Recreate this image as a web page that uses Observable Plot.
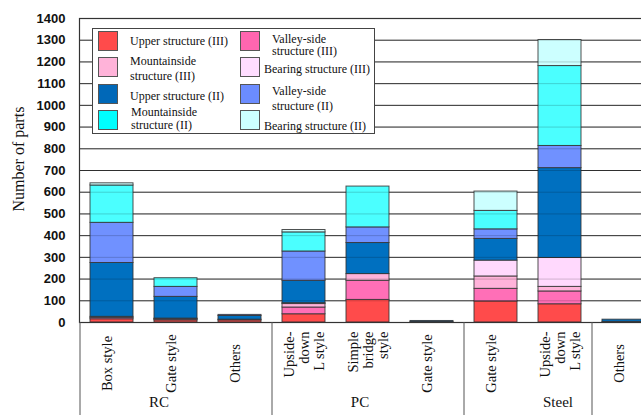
<!DOCTYPE html>
<html><head><meta charset="utf-8">
<script src="https://cdn.jsdelivr.net/npm/d3@7"></script>
<script src="https://cdn.jsdelivr.net/npm/@observablehq/plot@0.6"></script>
<style>
html,body{margin:0;padding:0;overflow:hidden;background:#fff;}
#wrap{position:relative;width:641px;height:415px;overflow:hidden;}
#chart svg{max-width:none !important;}
#legend{position:absolute;left:92px;top:28px;width:283px;height:106px;border:1px solid #444;background:#fff;box-sizing:border-box;}
.sw{position:absolute;width:20px;height:20px;border:1px solid #555;box-sizing:border-box;}
.lt{position:absolute;font-family:"Liberation Serif",serif;font-size:12px;white-space:pre;color:#111;}
</style></head><body><div id="wrap"><div id="chart"></div><div id="legend"></div></div>
<script>
// ---- data ----
const groups = ["RC","RC","RC","PC","PC","PC","Steel","Steel","Steel"];
const labels = ["Box style","Gate style","Others","Upside-\ndown\nL style","Simple\nbridge\nstyle","Gate style","Gate style","Upside-\ndown\nL style","Others"];
const series = ["Upper structure (III)","Valley-side structure (III)","Mountainside structure (III)","Bearing structure (III)","Upper structure (II)","Valley-side structure (II)","Mountainside structure (II)","Bearing structure (II)"];
const legendLabels = ["Upper structure (III)","Valley-side\nstructure (III)","Mountainside\nstructure (III)","Bearing structure (III)","Upper structure (II)","Valley-side\nstructure (II)","Mountainside\nstructure (II)","Bearing structure (II)"];
const colors = ["#FF4B4B","#FF6FB7","#FFB3DA","#FFD9FD","#0070C0","#7091FF","#4BFFFF","#CCFFFF"];
const legendColors = ["#FF4B4B","#FF66B0","#FFB3D9","#FFDDFF","#0068B8","#6B8CFF","#00FFFF","#CCFFFF"];
const upperIII    = [15, 10, 10, 38, 104, 2, 97, 84, 3];
const valleyIII   = [6, 3, 3, 31, 88, 0, 58, 59, 0];
const mountainIII = [5, 3, 0, 16, 31, 0, 57, 21, 0];
const bearingIII  = [0, 2, 0, 4, 0, 0, 73, 133, 0];
const upperII     = [248, 100, 17, 103, 143, 5, 100, 414, 10];
const valleyII    = [185, 46, 5, 135, 72, 0, 44, 102, 0];
const mountainII  = [172, 40, 0, 88, 188, 0, 85, 368, 0];
const bearingII   = [10, 0, 0, 11, 0, 0, 89, 120, 0];
const yTicks = [0,100,200,300,400,500,600,700,800,900,1000,1100,1200,1300,1400];
const groupNames = ["RC","PC","Steel"];
const yTitle = "Number of parts";

// ---- build ----
const values = [upperIII, valleyIII, mountainIII, bearingIII, upperII, valleyII, mountainII, bearingII];
const keys = labels.map((d,i) => groups[i] + "|" + i);
const rows = [];
series.forEach((s, si) => values[si].forEach((v, ci) => { if (v > 0) rows.push({key: keys[ci], series: s, value: v}); }));
const cats = labels.map((l,i) => ({key: keys[i], label: l, multi: l.includes("\n")}));

const serif = "Liberation Serif, Times New Roman, serif";
const groupMid = {RC: {i:1, dx:-17}, PC: {i:4, dx:-8}, Steel: {i:7, dx:-2}};

const chart = Plot.plot({
  width: 656, height: 415,
  marginLeft: 79, marginRight: 1, marginTop: 18, marginBottom: 93,
  style: {fontFamily: serif, background: "transparent", overflow: "visible", maxWidth: "none"},
  x: {type: "band", domain: keys, paddingInner: 0.33, paddingOuter: 0.165, axis: null},
  y: {domain: [0, 1400], axis: null},
  color: {domain: series, range: colors},
  marks: [
    Plot.ruleY(yTicks.filter(d => d > 0 && d < 1400), {stroke: "#3a3a3a", strokeWidth: 1}),
    Plot.barY(rows, {x: "key", y: "value", fill: "series", order: series, stroke: "#333", strokeWidth: 1, strokeOpacity: 0.85}),
    Plot.ruleY(yTicks.filter(d => d > 0 && d < 1400), {stroke: "#000", strokeOpacity: 0.18}),
    Plot.frame({stroke: "#333", strokeWidth: 1.2}),
    Plot.axisY(yTicks, {tickSize: 0, tickPadding: 14, tickFormat: d => String(d), fontSize: 13, fontWeight: "bold", fontFamily: "Liberation Sans, Arial, sans-serif", fill: "#111", label: null}),
    Plot.ruleX([keys[0], keys[3], keys[6], keys[8]], {dx: -32, insetTop: 304, insetBottom: -93, stroke: "#555"}),
    Plot.ruleX([keys[8]], {dx: 32, insetTop: 304, insetBottom: -93, stroke: "#555"}),
    Plot.text(cats.filter(d => !d.multi), {x: "key", text: "label", frameAnchor: "bottom", dy: 41, rotate: -90, textAnchor: "middle", fontSize: 14.5, fontFamily: serif, fill: "#111"}),
    Plot.text(cats.filter(d => d.multi), {x: "key", text: "label", frameAnchor: "bottom", dy: 9, rotate: -90, textAnchor: "end", lineAnchor: "middle", lineHeight: 1.03, fontSize: 14.5, fontFamily: serif, fill: "#111"}),
    ...groupNames.map(g => Plot.text([{key: keys[groupMid[g].i], label: g}], {x: "key", text: "label", frameAnchor: "bottom", dy: 84, dx: groupMid[g].dx, fontSize: 15, fontFamily: serif, fill: "#111"})),
    Plot.text([yTitle], {frameAnchor: "left", dx: -61, dy: 41, rotate: -90, fontSize: 16, fontFamily: serif, fill: "#111"})
  ]
});
chart.style.maxWidth = "none";
document.getElementById("chart").appendChild(chart);

// ---- legend (inside plot area) ----
const legend = document.getElementById("legend");
const L0 = 93, T0 = 29; // legend padding-box origin in page coordinates
const swX = [98, 240], swY = [31, 57, 84, 110];
const textX = [130, 272, 130, 264, 130, 272, 131, 264];
const firstLineY = [41, 40, 61, 68.5, 96, 91.5, 112.5, 125.5];
const lineGap = [12, 11.5, 15, 12, 12, 15.5, 13.5, 12];
series.forEach((s, i) => {
  const col = i % 2, row = Math.floor(i / 2);
  const sw = document.createElement("div");
  sw.className = "sw";
  sw.style.left = (swX[col] - L0) + "px";
  sw.style.top = (swY[row] - T0) + "px";
  sw.style.background = legendColors[i];
  legend.appendChild(sw);
  const t = document.createElement("div");
  t.className = "lt";
  t.textContent = legendLabels[i];
  t.style.lineHeight = lineGap[i] + "px";
  t.style.left = (textX[i] - L0) + "px";
  t.style.top = (firstLineY[i] - lineGap[i] / 2 - T0) + "px";
  legend.appendChild(t);
});
</script>
</body></html>
